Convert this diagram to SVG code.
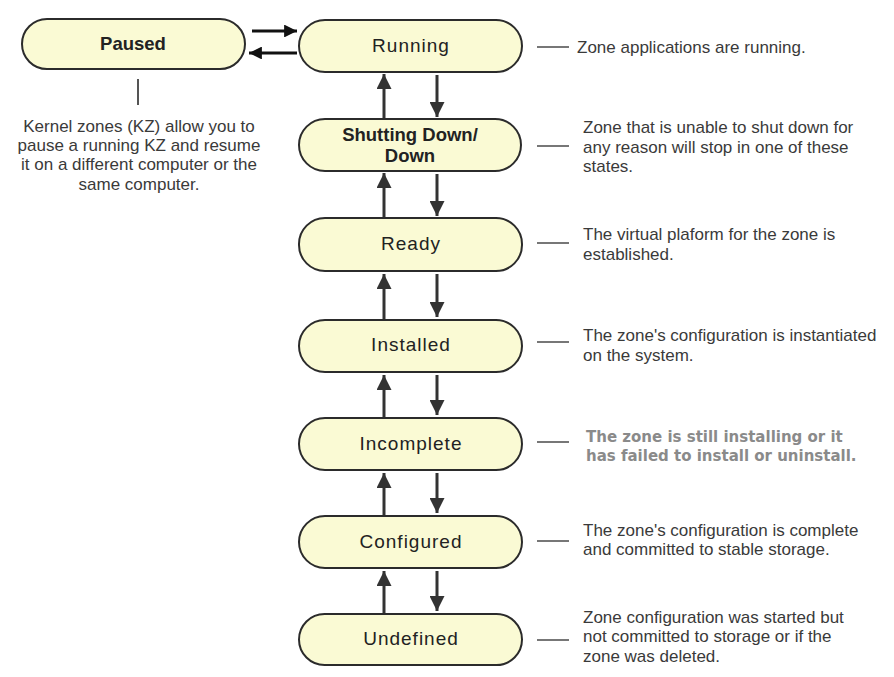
<svg xmlns="http://www.w3.org/2000/svg" width="894" height="677" viewBox="0 0 894 677">
<defs>
<style>
.node{fill:#fafad4;stroke:#2b2b2b;stroke-width:2}
.lbl{font-family:"Liberation Sans",Arial,sans-serif;font-size:19px;fill:#222;text-anchor:middle;letter-spacing:1px}
.lblb{font-family:"Liberation Sans",Arial,sans-serif;font-size:18.5px;font-weight:bold;fill:#222;text-anchor:middle}
.desc{font-family:"Liberation Sans",Arial,sans-serif;font-size:17px;fill:#3a3a3a}
.descb{font-family:"DejaVu Sans",Verdana,sans-serif;font-size:15px;font-weight:bold;fill:#8a8a8a}
.note{font-family:"Liberation Sans",Arial,sans-serif;font-size:17px;fill:#3a3a3a;text-anchor:middle}
.arr{stroke:#333;stroke-width:3;fill:none}
.arrk{stroke:#111;stroke-width:3;fill:none}
.tick{stroke:#555;stroke-width:1.6}
</style>
<marker id="ah" viewBox="0 0 10 10" refX="10" refY="5" markerWidth="5" markerHeight="5" markerUnits="strokeWidth" orient="auto">
<path d="M0,0 L10,5 L0,10 z" fill="#333"/>
</marker>
<marker id="ahk" viewBox="0 0 10 10" refX="10" refY="5" markerWidth="4.3" markerHeight="4.3" markerUnits="strokeWidth" orient="auto">
<path d="M0,0 L10,5 L0,10 z" fill="#111"/>
</marker>
</defs>
<rect width="894" height="677" fill="#ffffff"/>

<g id="connectors">
<line class="arrk" x1="252" y1="31" x2="297" y2="31" marker-end="url(#ahk)"/>
<line class="arrk" x1="297" y1="53" x2="249" y2="53" marker-end="url(#ahk)"/>
<line class="tick" x1="138" y1="79" x2="138" y2="105" style="stroke-width:2"/>
<!-- Running <-> Shutting -->
<line class="arr" x1="384" y1="119" x2="384" y2="74" marker-end="url(#ah)"/>
<line class="arr" x1="437" y1="75" x2="437" y2="117" marker-end="url(#ah)"/>
<!-- Shutting <-> Ready -->
<line class="arr" x1="384" y1="218" x2="384" y2="173" marker-end="url(#ah)"/>
<line class="arr" x1="437" y1="174" x2="437" y2="216" marker-end="url(#ah)"/>
<!-- Ready <-> Installed -->
<line class="arr" x1="384" y1="320" x2="384" y2="274" marker-end="url(#ah)"/>
<line class="arr" x1="437" y1="274" x2="437" y2="317" marker-end="url(#ah)"/>
<!-- Installed <-> Incomplete -->
<line class="arr" x1="384" y1="418" x2="384" y2="375" marker-end="url(#ah)"/>
<line class="arr" x1="437" y1="375" x2="437" y2="415" marker-end="url(#ah)"/>
<!-- Incomplete <-> Configured -->
<line class="arr" x1="384" y1="516" x2="384" y2="473" marker-end="url(#ah)"/>
<line class="arr" x1="437" y1="473" x2="437" y2="513" marker-end="url(#ah)"/>
<!-- Configured <-> Undefined -->
<line class="arr" x1="384" y1="614" x2="384" y2="571" marker-end="url(#ah)"/>
<line class="arr" x1="437" y1="571" x2="437" y2="611" marker-end="url(#ah)"/>
<!-- description ticks -->
<line class="tick" x1="537" y1="47" x2="569" y2="47"/>
<line class="tick" x1="537" y1="146" x2="569" y2="146"/>
<line class="tick" x1="537" y1="243" x2="569" y2="243"/>
<line class="tick" x1="537" y1="342" x2="569" y2="342"/>
<line class="tick" x1="537" y1="442" x2="569" y2="442"/>
<line class="tick" x1="537" y1="541" x2="569" y2="541"/>
<line class="tick" x1="537" y1="640" x2="569" y2="640"/>
</g>

<g id="paused">
<rect class="node" x="22" y="19" width="223" height="50" rx="25"/>
<text class="lblb" x="133" y="50">Paused</text>
</g>
<g id="paused-note">
<text class="note" x="139" y="132">Kernel zones (KZ) allow you to</text>
<text class="note" x="139" y="151">pause a running KZ and resume</text>
<text class="note" x="139" y="170">it on a different computer or the</text>
<text class="note" x="139" y="190">same computer.</text>
</g>

<g id="running">
<rect class="node" x="299" y="20" width="223" height="52" rx="26"/>
<text class="lbl" x="411" y="52">Running</text>
<text class="desc" x="577" y="53">Zone applications are running.</text>
</g>

<g id="shutting-down">
<rect class="node" x="299" y="119" width="222" height="52" rx="26"/>
<text class="lblb" x="410" y="141">Shutting Down/</text>
<text class="lblb" x="410" y="162">Down</text>
<text class="desc" x="583" y="133">Zone that is unable to shut down for</text>
<text class="desc" x="583" y="153">any reason will stop in one of these</text>
<text class="desc" x="583" y="172">states.</text>
</g>

<g id="ready">
<rect class="node" x="299" y="218" width="223" height="53" rx="26"/>
<text class="lbl" x="411" y="250">Ready</text>
<text class="desc" x="583" y="240">The virtual plaform for the zone is</text>
<text class="desc" x="583" y="260">established.</text>
</g>

<g id="installed">
<rect class="node" x="299" y="320" width="223" height="52" rx="26"/>
<text class="lbl" x="411" y="351">Installed</text>
<text class="desc" x="583" y="341">The zone's configuration is instantiated</text>
<text class="desc" x="583" y="361">on the system.</text>
</g>

<g id="incomplete">
<rect class="node" x="299" y="418" width="223" height="52" rx="26"/>
<text class="lbl" x="411" y="450">Incomplete</text>
<text class="descb" x="586" y="442">The zone is still installing or it</text>
<text class="descb" x="586" y="461">has failed to install or uninstall.</text>
</g>

<g id="configured">
<rect class="node" x="299" y="516" width="223" height="52" rx="26"/>
<text class="lbl" x="411" y="548">Configured</text>
<text class="desc" x="583" y="536">The zone's configuration is complete</text>
<text class="desc" x="583" y="555">and committed to stable storage.</text>
</g>

<g id="undefined">
<rect class="node" x="299" y="614" width="223" height="51" rx="25.5"/>
<text class="lbl" x="411" y="645">Undefined</text>
<text class="desc" x="583" y="623">Zone configuration was started but</text>
<text class="desc" x="583" y="642">not committed to storage or if the</text>
<text class="desc" x="583" y="662">zone was deleted.</text>
</g>
</svg>
